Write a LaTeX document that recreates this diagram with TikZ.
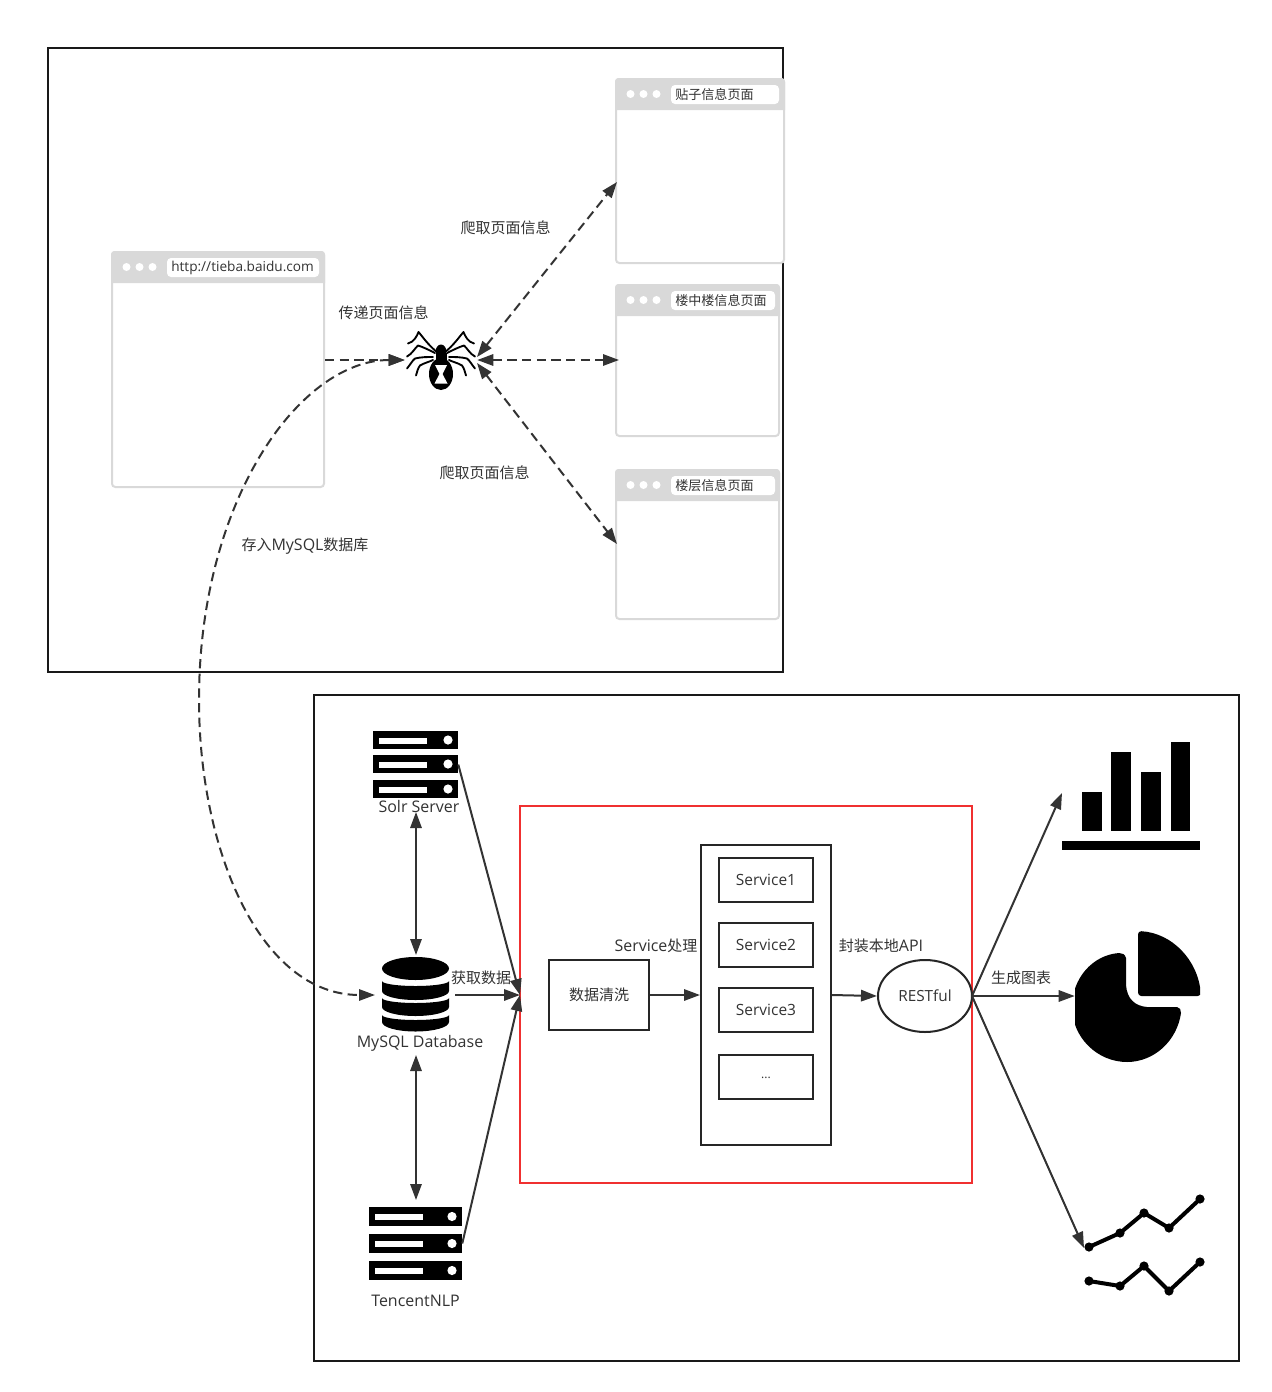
\documentclass[tikz,border=0pt]{standalone}
\usepackage{fontspec}
\setmainfont[Scale=1.065]{Open Sans}
\newfontfamily\cjk{Noto Sans CJK SC}
\usetikzlibrary{arrows.meta,shapes.geometric}
\definecolor{ink}{HTML}{333333}
\definecolor{hdr}{HTML}{D9D9D9}
\definecolor{redbox}{HTML}{F03030}
\newcommand{\U}{0.75pt}
\tikzset{
  x=0.75pt,y=-0.75pt,
  tip/.tip={Triangle[length=12pt,width=8.5pt]},
  frame/.style={draw=black!90,line width=1.5pt,inner sep=0pt},
  plainbox/.style={draw=black!85,line width=1.5pt,inner sep=0pt,fill=white},
  svcbox/.style={plainbox,minimum width=94*\U,minimum height=44*\U,text=ink,font=\fontsize{10.9pt}{12pt}\selectfont},
  conn/.style={draw=ink,line width=1.5pt},
  dconn/.style={conn,dash pattern=on 7pt off 4pt},
  lbl/.style={text=ink,font=\fontsize{11.25pt}{13pt}\selectfont,inner sep=0pt},
  ghost/.style={inner sep=0pt,draw=none},
  addr/.style={text=ink,font=\fontsize{9.8pt}{12pt}\selectfont,inner sep=0pt},
}
% #1 name, #2 left, #3 top, #4 width, #5 height, #6 address box width, #7 address text
\newcommand{\browser}[7]{%
  \begin{scope}[shift={(#2,#3)}]
    \node[draw=hdr,line width=1.5pt,rounded corners=2.5pt,inner sep=0pt,fill=white,
      minimum width=#4*\U,minimum height=#5*\U] (#1) at ({#4/2},{#5/2}) {};
    \fill[hdr] (-1,31) [rounded corners=2.5pt] -- (-1,-1) -- ({#4+1},-1) [sharp corners] -- ({#4+1},31) -- cycle;
    \foreach \cx in {14.5,27.5,40.5} \fill[white] (\cx,15) circle[radius=4];
    \fill[white,rounded corners=3pt] (55,6) rectangle ++(#6,19);
    \node[addr,anchor=west] (#1t) at (59,15.5) {#7};
  \end{scope}}
\newcommand{\serverrow}[4]{% x1,x2,y1,y2
  \fill[black] (#1,#3) rectangle (#2,#4);
  \fill[white] ({#1+6},{#3+6.5}) rectangle ({#1+54},{#3+12.5});
  \fill[white] ({#2-10},{(#3+#4)/2}) circle[radius=4.6];}
% database band: top side y, top sag, bottom side y, bottom sag
\newcommand{\dbband}[4]{%
  \fill[black] (382,#1) arc[start angle=180,end angle=0,x radius=33.5,y radius=#2] -- (449,#3)
    arc[start angle=0,end angle=180,x radius=33.5,y radius=#4] -- cycle;}
\begin{document}
\begin{tikzpicture}
\useasboundingbox (0,0) rectangle (1271,1392);
\fill[white] (0,0) rectangle (1271,1392);

% outer frames
\node[frame,minimum width=735*\U,minimum height=624*\U] (top) at (415.5,360) {};
\node[frame,minimum width=925*\U,minimum height=666*\U] (bot) at (776.5,1028) {};

% browser windows
\browser{win}{112}{252}{212}{235}{152}{\fontsize{9.6pt}{12pt}\selectfont\raisebox{-0.7pt}{http://tieba.baidu.com}}
\browser{pa}{616}{79}{168}{184}{108}{{\cjk 贴子信息页面}}
\browser{pb}{616}{285}{163}{151}{104}{{\cjk 楼中楼信息页面}}
\browser{pc}{616}{470}{163}{149}{104}{{\cjk 楼层信息页面}}

% spider
\node[ghost,minimum width=72*\U,minimum height=60*\U] (spider) at (441,360) {};
\begin{scope}[line width=1.4pt,line cap=round,line join=round]
  \foreach \s in {1,-1}{
    \begin{scope}[shift={(441,0)},xscale=\s]
      \draw (-4,352) .. controls (-12,346) and (-19,336) .. (-22.5,332) .. controls (-24,336) and (-27,342) .. (-33,343.5);
      \draw (-6,353) .. controls (-12,350) and (-18,347) .. (-23,345.5) .. controls (-26,348) and (-29,354) .. (-34,356.5);
      \draw (-8,357) .. controls (-14,357) and (-20,357) .. (-26,358.5) .. controls (-29,361) and (-31,365) .. (-34,368.5);
      \draw (-8,360) .. controls (-12,362) and (-17,363) .. (-21,365.5) .. controls (-23,368) and (-24,372) .. (-25,375.5);
    \end{scope}}
\end{scope}
\fill[black] (441,351) ellipse[x radius=5.2,y radius=6.5];
\fill[black] (441,374) ellipse[x radius=12,y radius=16];
\fill[black] (435.5,353) rectangle (446.5,362);
\fill[white] (435,365) -- (447,365) -- (442.5,374) -- (447.5,383.5) -- (434.5,383.5) -- (439.5,374) -- cycle;

% Solr icon
\node[ghost,minimum width=85*\U,minimum height=67*\U] (solr) at (415.5,764.5) {};
\serverrow{373}{458}{731}{749}
\serverrow{373}{458}{755}{773}
\serverrow{373}{458}{780}{798}
\node[lbl] (solrl) at (419,806) {Solr Server};

% MySQL icon
\node[ghost,minimum width=67*\U,minimum height=75*\U] (db) at (415.5,994.5) {};
\fill[black] (415.5,968.5) ellipse[x radius=33.5,y radius=11.5];
\dbband{981}{5}{991}{9}
\dbband{998}{5}{1007}{9}
\dbband{1015}{5}{1022}{9.5}
\node[lbl] (dbl) at (420,1043) {MySQL Database};

% Tencent icon
\node[ghost,minimum width=93*\U,minimum height=73*\U] (nlp) at (415.5,1243.5) {};
\serverrow{369}{462}{1207}{1226}
\serverrow{369}{462}{1234}{1253}
\serverrow{369}{462}{1261}{1280}
\node[lbl] (nlpl) at (415.5,1300.5) {TencentNLP};

% processing block
\node[draw=redbox,line width=1.5pt,inner sep=0pt,minimum width=452*\U,minimum height=377*\U] (proc) at (746,994.5) {};
\node[plainbox,minimum width=100*\U,minimum height=70*\U,text=ink,font=\fontsize{11.25pt}{13pt}\selectfont] (clean) at (599,995) {\raisebox{-0.7pt}{\cjk 数据清洗}};
\node[plainbox,minimum width=130*\U,minimum height=300*\U] (svc) at (766,995) {};
\node[svcbox] (sa) at (766,880) {Service1};
\node[svcbox] (sb) at (766,945) {\raisebox{-0.7pt}{Service2}};
\node[svcbox] (sc) at (766,1010) {\raisebox{-0.7pt}{Service3}};
\node[svcbox] (sd) at (766,1077) {\raisebox{-3pt}{\fontsize{8.5pt}{10pt}\selectfont ...}};
\node[draw=black!85,line width=1.5pt,ellipse,inner sep=0pt,fill=white,minimum width=94*\U,minimum height=72*\U,text=ink,font=\fontsize{10.8pt}{12pt}\selectfont] (rest) at (925,996) {\raisebox{-1pt}{RESTful}};

% bar chart
\node[ghost,minimum width=138*\U,minimum height=108*\U] (bars) at (1131,796) {};
\fill[black] (1082,792) rectangle (1102,831);
\fill[black] (1111,752) rectangle (1131,831);
\fill[black] (1141,772) rectangle (1161,831);
\fill[black] (1171,742) rectangle (1190,831);
\fill[black] (1062,841) rectangle (1200,850);

% pie chart
\node[ghost,minimum width=125*\U,minimum height=131*\U] (pie) at (1137.5,996) {};
\begin{scope}
  \clip (1075,925) rectangle (1200,1070);
  \fill[black,rounded corners=2.5pt] (1138,996) -- (1138,931) .. controls (1172,933) and (1198,960) .. (1201,996) -- cycle;
  \fill[black] (1119,953) .. controls (1122,953) and (1125,954) .. (1126,958) -- (1126,985)
    .. controls (1127,999) and (1135,1006) .. (1147,1007) -- (1177,1007)
    .. controls (1180,1007) and (1181,1010) .. (1181,1013)
    .. controls (1177,1041) and (1154,1062) .. (1127,1062)
    .. controls (1097,1062) and (1072,1037) .. (1072,1007)
    .. controls (1072,979) and (1092,955) .. (1119,953) -- cycle;
\end{scope}

% line charts
\coordinate (linesin) at (1084,1248);
\begin{scope}[line width=3pt,line join=round]
  \draw (1089,1247) -- (1120,1233) -- (1144,1213) -- (1169,1228) -- (1200,1199);
  \draw (1089,1281) -- (1120,1286) -- (1144,1266) -- (1169,1291) -- (1200,1262);
  \foreach \p in {(1089,1247),(1120,1233),(1144,1213),(1169,1228),(1200,1199),(1089,1281),(1120,1286),(1144,1266),(1169,1291),(1200,1262)}
    \fill[black] \p circle[radius=4.6];
\end{scope}

% named free ends
\coordinate (paIn) at (617,182);
\coordinate (pbIn) at (619,360);
\coordinate (pcIn) at (617,544);
\coordinate (spNE) at (477,357);
\coordinate (spSE) at (477,363);
\coordinate (solrB) at (416,812);
\coordinate (dbT) at (416,955);
\coordinate (dbB) at (416,1055);
\coordinate (nlpT) at (416,1200);
\coordinate (dbE) at (455,995);
\coordinate (dbW) at (375,995);
\coordinate (barsIn) at (1062,793);
\coordinate (restOut) at (972,996);
\coordinate (procIn) at (520,995);

% connectors: crawler
\draw[dconn,-{tip}] (win.east |- spider.west) -- (spider.west);
\draw[dconn,{tip}-{tip}] (spNE) -- (paIn);
\draw[dconn,{tip}-{tip}] (spider.east) -- (pbIn);
\draw[dconn,{tip}-{tip}] (spSE) -- (pcIn);
\draw[dconn,{tip}-{tip}] (spider.west) .. controls (300,360) and (199,500) .. (199,700)
   .. controls (199,850) and (260,995) .. (dbW);

% connectors: backend
\draw[conn,{tip}-{tip}] (solrB) -- (dbT);
\draw[conn,{tip}-{tip}] (dbB) -- (nlpT);
\draw[conn,-{tip}] (solr.east) -- (procIn);
\draw[conn,-{tip}] (dbE) -- (procIn);
\draw[conn,-{tip}] (nlp.east) -- (procIn);
\draw[conn,-{tip}] (clean.east) -- (svc.west);
\draw[conn,-{tip}] (svc.east) -- (rest.west);
\draw[conn,-{tip}] (restOut) -- (barsIn);
\draw[conn,-{tip}] (restOut) -- (pie.west);
\draw[conn,-{tip}] (restOut) -- (linesin);

% labels
\node[lbl] (l1) at (383.5,312.5) {\cjk 传递页面信息};
\node[lbl] (l2) at (505.5,227.5) {\cjk 爬取页面信息};
\node[lbl] (l3) at (484.5,472.5) {\cjk 爬取页面信息};
\node[lbl] (l4) at (305,546.5) {{\cjk 存入}MySQL{\cjk 数据库}};
\node[lbl] (l5) at (481,978) {\cjk 获取数据};
\node[lbl] (l6) at (656,945.5) {Service{\cjk 处理}};
\node[lbl] (l7) at (881,945.5) {{\cjk 封装本地}API};
\node[lbl] (l8) at (1021,978) {\cjk 生成图表};
\end{tikzpicture}
\end{document}
